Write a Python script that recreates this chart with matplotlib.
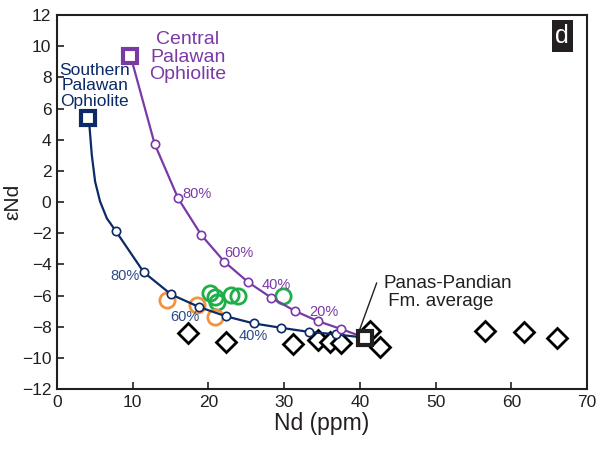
import numpy as np
import matplotlib.pyplot as plt

plt.rcParams['font.family'] = ['Liberation Sans', 'DejaVu Sans']

navy = '#0b2a66'
purple = '#7a3aa6'
green = '#1fae4a'
orange = '#f4933f'
dark = '#231f20'

# end members
south_nd, south_e = 4.1, 5.4
central_nd, central_e = 9.7, 9.4
panas_nd, panas_e = 40.6, -8.7

# mixing curve ticks (10 % steps)
blue_nd = [7.75, 11.45, 15.08, 18.79, 22.37, 26.0, 29.6, 33.25, 36.87]
blue_e = [-1.85, -4.50, -5.93, -6.74, -7.34, -7.79, -8.07, -8.33, -8.49]
purp_nd = [12.9, 16.0, 19.06, 22.1, 25.24, 28.29, 31.39, 34.44, 37.53]
purp_e = [3.72, 0.23, -2.12, -3.83, -5.14, -6.14, -6.98, -7.64, -8.15]

# extra vertices along the steep upper part of the blue curve
blue_top_nd = [4.28, 4.60, 5.04, 5.70, 6.59]
blue_top_e = [4.94, 3.01, 1.30, 0.02, -1.05]

green_nd = [20.16, 20.82, 21.18, 22.94, 23.9, 29.8]
green_e = [-5.86, -6.08, -6.40, -5.97, -6.05, -6.02]
orange_nd = [14.55, 18.53, 20.82]
orange_e = [-6.29, -6.61, -7.40]
dia_nd = [17.28, 22.28, 31.13, 34.44, 35.98, 37.44, 41.29, 42.61, 56.54, 61.63, 65.96]
dia_e = [-8.41, -9.0, -9.14, -8.86, -9.0, -9.02, -8.28, -9.29, -8.28, -8.35, -8.71]

fig = plt.figure(figsize=(6.06, 4.54), dpi=100)
ax = fig.add_axes([0.094, 0.143, 0.875, 0.824])

ax.plot(dia_nd, dia_e, 'D', ms=10, mfc='white', mec='black', mew=2, zorder=2)
ax.plot(green_nd, green_e, 'o', ms=11, mfc='none', mec=green, mew=2, zorder=2)
ax.plot(orange_nd, orange_e, 'o', ms=11, mfc='none', mec=orange, mew=2, zorder=2)

bx = [south_nd] + blue_top_nd + blue_nd + [panas_nd]
by = [south_e] + blue_top_e + blue_e + [panas_e]
ax.plot(bx, by, '-', color=navy, lw=1.6, zorder=3)
ax.plot(blue_nd, blue_e, 'o', ms=6, mfc='white', mec=navy, mew=1.2, zorder=4)

px = [central_nd] + purp_nd + [panas_nd]
py = [central_e] + purp_e + [panas_e]
ax.plot(px, py, '-', color=purple, lw=1.6, zorder=3)
ax.plot(purp_nd, purp_e, 'o', ms=6, mfc='white', mec=purple, mew=1.2, zorder=4)

ax.plot(south_nd, south_e, 's', ms=10, mfc='white', mec=navy, mew=3, zorder=5)
ax.plot(central_nd, central_e, 's', ms=10, mfc='white', mec=purple, mew=3, zorder=5)
ax.plot(panas_nd, panas_e, 's', ms=10, mfc='white', mec=dark, mew=3, zorder=5)

# percent labels
for s, x, y in [('80%', 18.5, 0.51), ('60%', 23.96, -3.26), ('40%', 29.0, -5.35), ('20%', 35.24, -7.04)]:
    ax.text(x, y, s, color=purple, fontsize=10.5, ha='center', va='center')
for s, x, y in [('80%', 9.02, -4.73), ('60%', 16.88, -7.37), ('40%', 25.95, -8.6)]:
    ax.text(x, y, s, color='#2b4a86', fontsize=10.5, ha='center', va='center')

ax.text(17.3, 9.3, 'Central\nPalawan\nOphiolite', color=purple, fontsize=14,
        ha='center', va='center', linespacing=1.05)
ax.text(5.0, 7.45, 'Southern\nPalawan\nOphiolite', color=navy, fontsize=12.5,
        ha='center', va='center', linespacing=1.05)
ax.text(43.1, -5.8, 'Panas-Pandian\n Fm. average', color=dark, fontsize=13.5,
        ha='left', va='center', linespacing=1.05)
ax.plot([42.2, 39.8], [-5.2, -8.4], color=dark, lw=1)

ax.text(0.953, 0.944, 'd', transform=ax.transAxes, color='white', fontsize=18,
        ha='center', va='center',
        bbox=dict(boxstyle='square,pad=0.15', fc=dark, ec='none'))

ax.set_xlim(0, 70)
ax.set_ylim(-12, 12)
ax.set_xticks(np.arange(0, 71, 10))
ax.set_yticks(np.arange(-12, 13, 2))
ax.tick_params(direction='in', length=5, width=1.2, labelsize=12.5, colors=dark, pad=4)
for sp in ax.spines.values():
    sp.set_linewidth(1.5)
    sp.set_color(dark)
ax.set_xlabel('Nd (ppm)', fontsize=16.5, color=dark, labelpad=2)
ax.set_ylabel('εNd', fontsize=15, color=dark, labelpad=0)

fig.savefig('out.png', dpi=100)
